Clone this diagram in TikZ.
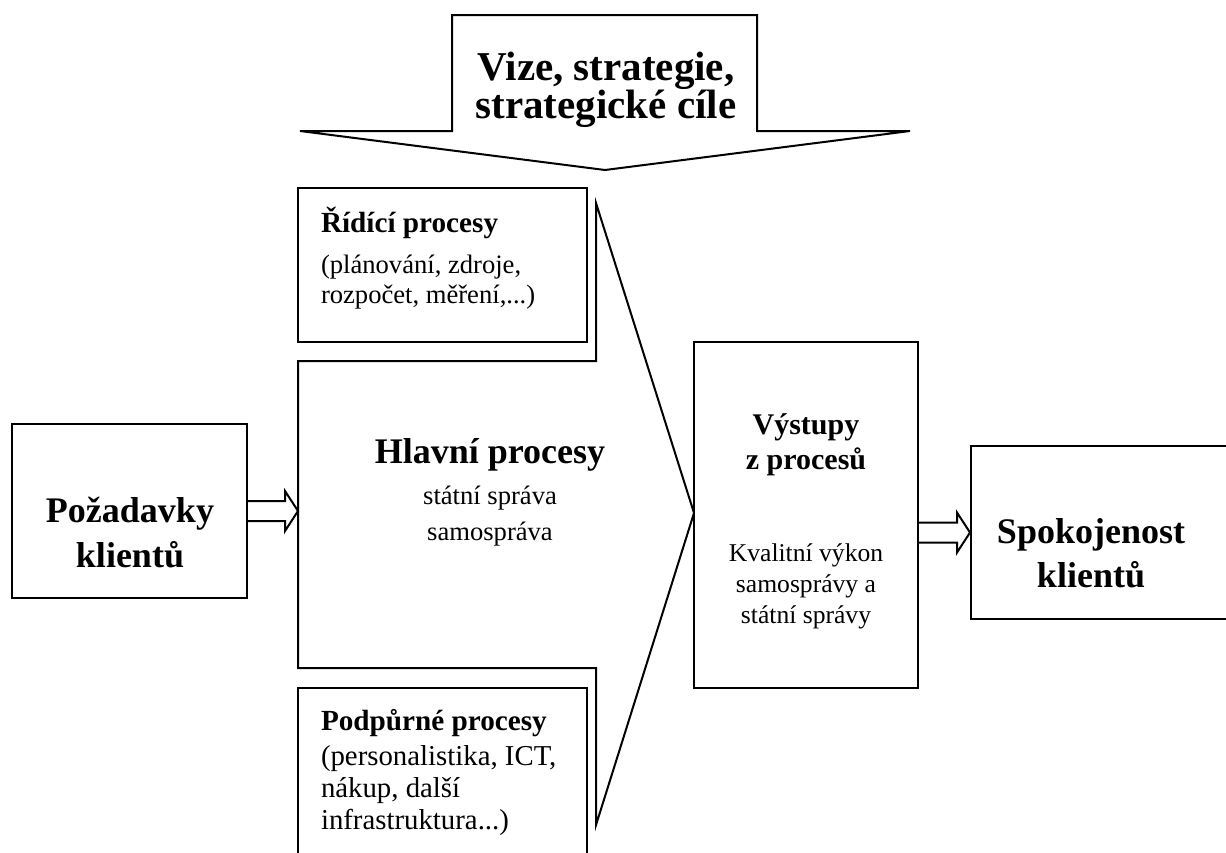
\documentclass[tikz,border=0pt]{standalone}
\usepackage{fontspec}
\setmainfont{Liberation Serif}
\usetikzlibrary{positioning,fit,calc}
\lineskiplimit=-20pt

\tikzset{
  box/.style={draw,line width=1pt,inner sep=0pt},
  lbl/.style={inner sep=0pt},
  hollow/.style={line width=1pt,to path={
    ($(\tikztostart)+(0,-10)$) -- ($(\tikztotarget)+(-13,-10)$)
    -- ($(\tikztotarget)+(-13,-20)$) -- (\tikztotarget)
    -- ($(\tikztotarget)+(-13,20)$) -- ($(\tikztotarget)+(-13,10)$)
    -- ($(\tikztostart)+(0,10)$)}}
}

\begin{document}
\begin{tikzpicture}[x=0.5pt,y=-0.5pt,line width=1pt]
\useasboundingbox (0,0) rectangle (1226,852);
\clip (0,0) rectangle (1226,852);

% vize
\draw (300,131) -- (452,131) -- (452,15) -- (757,15) -- (757,131) -- (910,131) -- (605,170) -- cycle;
\node[lbl,anchor=base,align=center,font=\bfseries\fontsize{20.5}{19}\selectfont] (vize) at (606,118) {Vize, strategie,\\strategické cíle};

% hlavni procesy
\coordinate (tip) at (694,513);
\coordinate (hlin) at (298,511);
\draw (298,361) -- (596,361) -- (596,203) -- (tip) -- (596,825) -- (596,668) -- (298,668) -- cycle;
\node[lbl,anchor=base,align=center,font=\fontsize{13.3}{18}\selectfont] (hlav) at (490,540)
  {{\bfseries\fontsize{18}{18}\selectfont Hlavní procesy}\\[2.5pt]státní správa\\samospráva};

\node[box,fit={(298,188) (587,342)}] (rid) {};
\node[lbl,anchor=base west,align=left,font=\fontsize{13.3}{15}\selectfont] (ridtxt) at (320,303)
  {{\bfseries\fontsize{14.6}{15}\selectfont Řídící procesy}\\[5.5pt](plánování, zdroje,\\rozpočet, měření,...)};

\node[box,fit={(298,688) (587,880)}] (pod) {};
\node[lbl,anchor=base west,align=left,font=\fontsize{14.4}{16}\selectfont] (podtxt) at (320,829)
  {{\bfseries\fontsize{14.6}{16}\selectfont Podpůrné procesy}\\[1.5pt](personalistika, ICT,\\nákup, další\\infrastruktura...)};

\node[box,fit={(12,424) (247,598)}] (poz) {};
\node[lbl,anchor=base,align=center,font=\bfseries\fontsize{18}{22.5}\selectfont] (poztxt) at (130,567) {Požadavky\\klientů};

\node[box,fit={(694,342) (918,688)}] (vys) {};
\node[lbl,anchor=base,align=center,font=\fontsize{12.8}{15.3}\selectfont] (vystxt) at (806,623)
  {{\bfseries\fontsize{15}{15}\selectfont Výstupy}\\[2.2pt]{\bfseries\fontsize{15}{15}\selectfont z procesů}\\[30.7pt]Kvalitní výkon\\samosprávy a\\státní správy};

\node[box,fit={(971,446) (1260,619)}] (spok) {};
\node[lbl,anchor=base,align=center,font=\bfseries\fontsize{18}{22}\selectfont] (spoktxt) at (1091,587) {Spokojenost\\klientů};

\coordinate (vysout) at (vys.east |- spok.west);
\draw[hollow] (poz.east) to (hlin);
\draw[hollow] (vysout) to (spok.west);
\end{tikzpicture}
\end{document}
